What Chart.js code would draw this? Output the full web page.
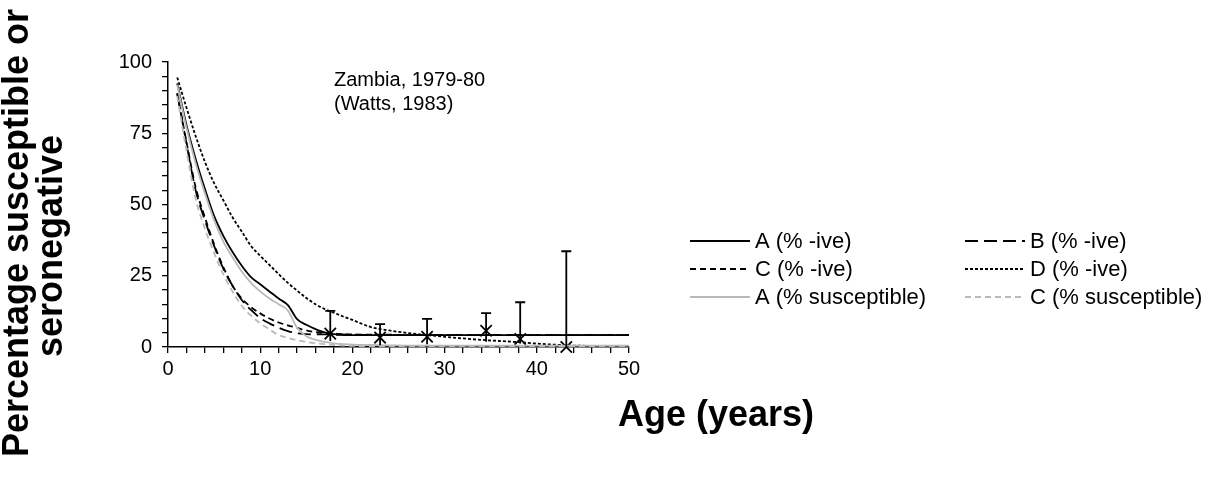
<!DOCTYPE html>
<html>
<head>
    <title>Zambia seronegative by age</title>
    <script src="https://cdn.jsdelivr.net/npm/chart.js"></script>
    <style>
        html, body { margin: 0; padding: 0; background: #fff; }
        #wrap { width: 1232px; height: 488px; }
    </style>
</head>
<body>
<div id="wrap"><canvas id="ageChart" width="1232" height="488"></canvas></div>
<script>
// ages (years) at which the model curves were read
var ages = [1,2,3,4,5,6,7,8,9,10,11,12,13,14,15,16,17,18,19,20,22,24,26,28,30,32,34,36,38,40,42,44,46,48,50];

var aNeg = [92.5,78,66,55.5,46,39,33.3,28.5,24.5,22,19.5,17,14.7,9.8,7.8,6.3,5.1,4.5,4.3,4.2,4.2,4.2,4.2,4.2,4.2,4.2,4.2,4.2,4.2,4.2,4.2,4.2,4.2,4.2,4.2];
var bNeg = [89,71.5,55,44.5,35.5,27.5,21.5,16.5,13,10.2,8.3,6.8,5.6,4.8,4.5,4.4,4.4,4.3,4.3,4.3,4.2,4.2,4.2,4.2,4.2,4.2,4.2,4.2,4.2,4.2,4.2,4.2,4.2,4.2,4.2];
var cNeg = [89,72,56,45.5,36,28,21.5,17,14,11.8,10,8.6,7.6,6.7,5.8,5.2,4.9,4.7,4.5,4.4,4.3,4.3,4.2,4.2,4.2,4.2,4.2,4.2,4.2,4.2,4.2,4.2,4.2,4.2,4.2];
var dNeg = [94.6,84,74,65,57.5,51.5,45.5,40.5,35.5,32,28.8,25.6,22.5,19.8,17.2,15,13.3,12,10.7,9.5,7,5.8,4.9,4.2,3.6,3,2.5,2.1,1.7,1.2,0.8,0.5,0.4,0.35,0.3];
var aSus = [92,77,64.5,54,44.5,37,31.5,26.5,22.5,19.5,17,15,12.8,6.8,3.8,2.5,1.8,1.3,1,0.8,0.7,0.6,0.5,0.5,0.5,0.5,0.5,0.5,0.5,0.5,0.5,0.5,0.5,0.5,0.5];
var cSus = [88,69,52,41.5,33,25.5,19.5,14.5,11,8.3,6.2,4.2,3.2,2.4,1.8,1.3,1,0.7,0.5,0.4,0.3,0.3,0.3,0.3,0.3,0.3,0.3,0.3,0.3,0.3,0.3,0.3,0.3,0.3,0.3];

// observed data (Watts, 1983)
var obsAge = [17.6, 23.0, 28.1, 34.5, 38.2, 43.2];
var obsPct = [4.7, 3.3, 3.6, 5.7, 2.8, 0];
var obsHigh = [12.7, 8.0, 9.9, 11.9, 15.7, 33.6];
var obsLow = [2.1, 0.6, 1.0, 1.8, 1.2, 0];

var labelsNeg = ['A (% -ive)', 'B (% -ive)', 'C (% -ive)', 'D (% -ive)', 'A (% susceptible)', 'C (% susceptible)'];

var FONT = "Arial, 'Liberation Sans', sans-serif";
var GREY = '#b9b9b9';

function pts(ys) {
    return ages.map(function (a, i) { return { x: a, y: ys[i] }; });
}

function curve(label, ys, color, dash) {
    return {
        label: label,
        data: pts(ys),
        borderColor: color,
        borderWidth: 1.8,
        borderDash: dash,
        pointRadius: 0,
        fill: false,
        cubicInterpolationMode: 'monotone'
    };
}

var datasets = [
    curve(labelsNeg[4], aSus, GREY, []),
    curve(labelsNeg[5], cSus, GREY, [6, 4]),
    curve(labelsNeg[3], dNeg, '#000', [3, 2]),
    curve(labelsNeg[2], cNeg, '#000', [6, 4]),
    curve(labelsNeg[1], bNeg, '#000', [13, 6]),
    curve(labelsNeg[0], aNeg, '#000', []),
    {
        label: 'observed',
        data: obsAge.map(function (a, i) { return { x: a, y: obsPct[i] }; }),
        showLine: false,
        pointStyle: 'crossRot',
        pointRadius: 8,
        pointBorderWidth: 1.8,
        borderColor: '#000',
        backgroundColor: '#000',
        clip: false
    }
];

// upper/lower bars for the observed points
var errorBars = {
    id: 'errorBars',
    afterDatasetsDraw: function (chart) {
        var ctx = chart.ctx, xs = chart.scales.x, ys = chart.scales.y;
        ctx.save();
        ctx.strokeStyle = '#000';
        ctx.lineWidth = 1.8;
        for (var i = 0; i < obsAge.length; i++) {
            var px = xs.getPixelForValue(obsAge[i]);
            var top = ys.getPixelForValue(obsHigh[i]);
            var bot = ys.getPixelForValue(obsLow[i]);
            ctx.beginPath();
            ctx.moveTo(px, bot);
            ctx.lineTo(px, top);
            ctx.moveTo(px - 5, top);
            ctx.lineTo(px + 5, top);
            ctx.stroke();
        }
        ctx.restore();
    }
};

// titles, note and the two-column legend
var extras = {
    id: 'extras',
    afterDraw: function (chart) {
        var ctx = chart.ctx;
        ctx.save();
        ctx.fillStyle = '#000';

        ctx.font = '20px ' + FONT;
        ctx.textAlign = 'left';
        ctx.textBaseline = 'middle';
        ctx.fillText('Zambia, 1979-80', 334, 80);
        ctx.fillText('(Watts, 1983)', 334, 104);

        ctx.font = 'bold 36px ' + FONT;
        ctx.textAlign = 'center';
        ctx.fillText('Age (years)', 716, 416);

        ctx.save();
        ctx.translate(18, 233);
        ctx.rotate(-Math.PI / 2);
        ctx.fillText('Percentage susceptible or', 0, 0);
        ctx.restore();
        ctx.save();
        ctx.translate(52, 246);
        ctx.rotate(-Math.PI / 2);
        ctx.fillText('seronegative', 0, 0);
        ctx.restore();

        // legend entries, row by row in two columns
        ctx.font = '22px ' + FONT;
        ctx.textAlign = 'left';
        labelsNeg.forEach(function (lab, k) {
            var ds = chart.data.datasets.find(function (d) { return d.label === lab; });
            var col = k % 2, row = Math.floor(k / 2);
            var x0 = col === 0 ? 690 : 965;
            var y = 241 + row * 28;
            ctx.beginPath();
            ctx.setLineDash(ds.borderDash);
            ctx.strokeStyle = ds.borderColor;
            ctx.lineWidth = ds.borderWidth;
            ctx.moveTo(x0, y);
            ctx.lineTo(x0 + 60, y);
            ctx.stroke();
            ctx.setLineDash([]);
            ctx.fillText(lab, x0 + 65, y + 1);
        });
        ctx.restore();
    }
};

new Chart(document.getElementById('ageChart'), {
    type: 'line',
    data: { datasets: datasets },
    options: {
        responsive: false,
        animation: false,
        layout: { padding: { left: 0, right: 603, top: 62, bottom: 0 } },
        plugins: { legend: { display: false }, tooltip: { enabled: false } },
        scales: {
            x: {
                type: 'linear',
                min: 0,
                max: 50,
                afterFit: function (s) { s.height = 141; },
                border: { display: true, color: '#000', width: 1.5 },
                grid: { drawOnChartArea: false, drawTicks: true, tickLength: 6, color: '#000', lineWidth: 1.3 },
                ticks: {
                    stepSize: 2,
                    autoSkip: false,
                    maxRotation: 0,
                    padding: 4,
                    color: '#000',
                    font: { family: FONT, size: 20 },
                    callback: function (v) { return v % 10 === 0 ? v : ''; }
                }
            },
            y: {
                min: 0,
                max: 100,
                afterFit: function (s) { s.width = 168; },
                border: { display: true, color: '#000', width: 1.5 },
                grid: { drawOnChartArea: false, drawTicks: true, tickLength: 6, color: '#000', lineWidth: 1.3 },
                ticks: {
                    stepSize: 5,
                    autoSkip: false,
                    padding: 10,
                    color: '#000',
                    font: { family: FONT, size: 20 },
                    callback: function (v) { return v % 25 === 0 ? v : ''; }
                }
            }
        }
    },
    plugins: [errorBars, extras]
});
</script>
</body>
</html>
